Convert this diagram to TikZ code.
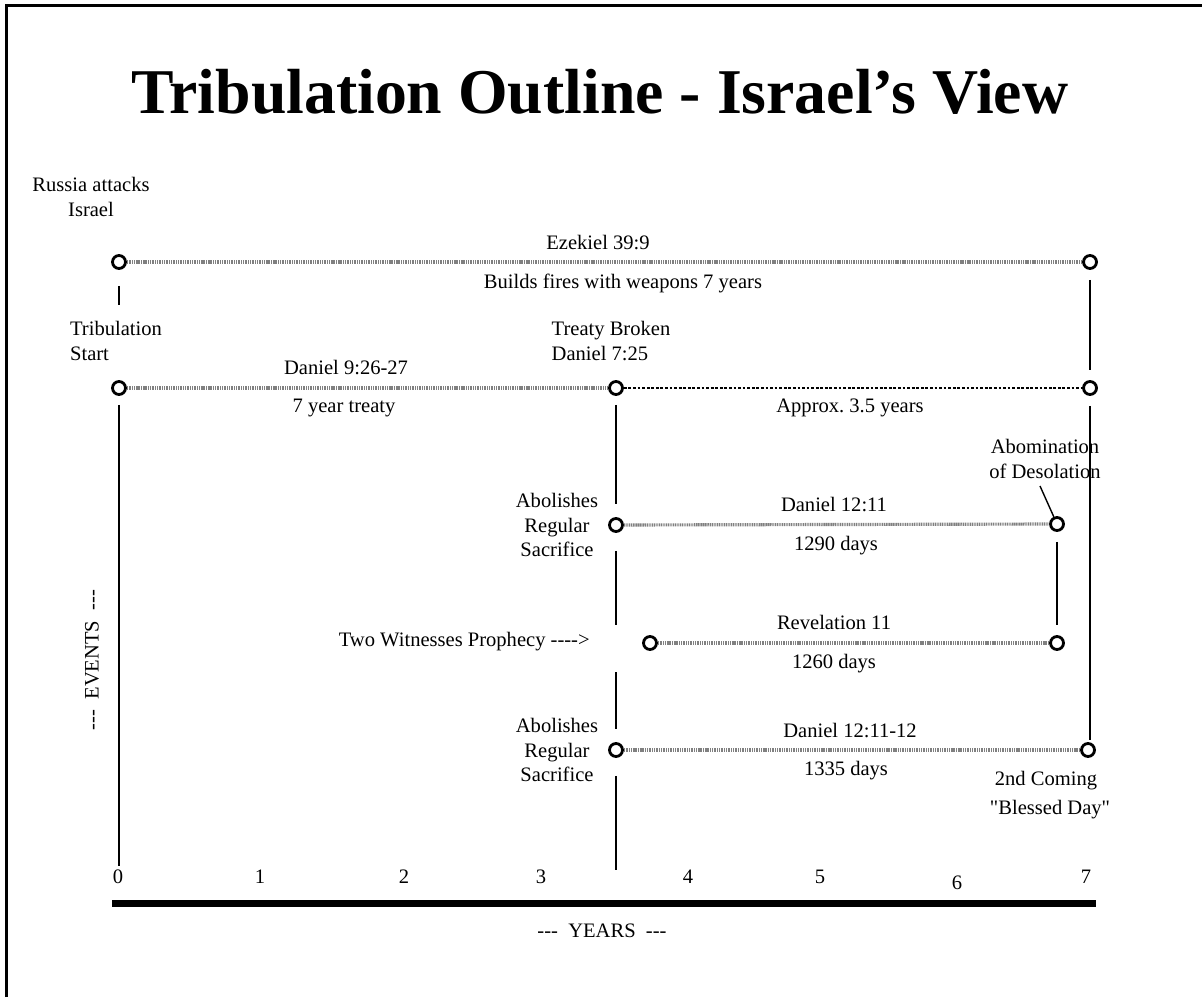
\documentclass[tikz,border=0pt]{standalone}
\usepackage{fontspec}
\setmainfont{Liberation Serif}
\usetikzlibrary{positioning, calc}
\tikzset{
    evdot/.style={circle, draw, line width=1.6pt, fill=white,
                  minimum size=0.26cm, inner sep=0pt},
    hatchline/.style={line width=1.8pt, black!50, dash pattern=on 0.6pt off 0.4pt},
    dotline/.style={line width=1.2pt, dash pattern=on 1.6pt off 1pt},
    vline/.style={line width=1.2pt},
    lbl/.style={font=\fontsize{11.7}{14}\selectfont, inner sep=0pt},
    stack/.style={lbl, align=center},
}

\begin{document}
\begin{tikzpicture}[x=0.02cm, y=-0.02cm]
    \useasboundingbox (0,0) rectangle (1202,997);
    % Frame
    \draw[line width=0.064cm] (6.5,997) -- (6.5,5.5) -- (1202,5.5);
    \node[font=\fontsize{36.3}{40}\selectfont\bfseries] (title) at (600,92)
        {Tribulation Outline - Israel's View};

    % Row 1 - Ezekiel
    \node[evdot] (r1a) at (119,262) {};
    \node[evdot] (r1b) at (1090,262) {};
    \draw[hatchline] (r1a) -- (r1b);
    \node[stack] (russia) at (91,197) {Russia attacks\\Israel};
    \node[lbl] (ezek) at (598,243) {Ezekiel 39:9};
    \node[lbl] (fires) at (623,283) {Builds fires with weapons 7 years};

    % Row 2 - Daniel 9
    \node[evdot] (r2a) at (119,388) {};
    \node[evdot] (r2b) at (616,388) {};
    \node[evdot] (r2c) at (1090,388) {};
    \draw[hatchline] (r2a) -- (r2b);
    \draw[dotline] (r2b) -- (r2c);
    \node[stack, align=left] (tribstart) at (116,341) {Tribulation\\Start};
    \node[stack, align=left] (treaty) at (611,341) {Treaty Broken\\Daniel 7:25};
    \node[lbl] (dan9) at (346,368) {Daniel 9:26-27};
    \node[lbl] (seven) at (344,408) {7 year treaty};
    \node[lbl] (approx) at (850,408) {Approx.\ 3.5 years};

    % Row 3 - Daniel 12:11
    \node[evdot] (r3a) at (616,525) {};
    \node[evdot] (r3b) at (1057,524) {};
    \draw[hatchline] (r3a) -- (r3b);
    \node[stack] (abol1) at (557,525) {Abolishes\\Regular\\Sacrifice};
    \node[lbl] (dan12) at (834,505) {Daniel 12:11};
    \node[lbl] (d1290) at (836,546) {1290 days};
    \node[stack] (abom) at (1045,459) {Abomination\\of Desolation};
    \draw[line width=0.8pt] (1040,486) -- (r3b);

    % Row 4 - Revelation 11
    \node[evdot] (r4a) at (650,643) {};
    \node[evdot] (r4b) at (1057,643) {};
    \draw[hatchline] (r4a) -- (r4b);
    \node[lbl, anchor=east] (witness) at (590,642) {Two Witnesses Prophecy -{}-{}-{}->};
    \node[lbl] (rev) at (834,622) {Revelation 11};
    \node[lbl] (d1260) at (834,664) {1260 days};

    % Row 5 - Daniel 12:11-12
    \node[evdot] (r5a) at (616,750) {};
    \node[evdot] (r5b) at (1088,750) {};
    \draw[hatchline] (r5a) -- (r5b);
    \node[stack] (abol2) at (557,750) {Abolishes\\Regular\\Sacrifice};
    \node[lbl] (dan1212) at (850,731) {Daniel 12:11-12};
    \node[lbl] (d1335) at (846,771) {1335 days};
    \node[lbl] (second) at (1046,781) {2nd Coming};
    \node[lbl] (blessed) at (1050,810) {\textquotedbl Blessed Day\textquotedbl};

    % Verticals
    \coordinate (v0) at (119,866);
    \coordinate (v35) at (616,870);
    \coordinate (v7) at (1090,740);
    \coordinate (gapT) at (616,625);
    \coordinate (gapB) at (616,672);
    \draw[vline, shorten <=0.32cm, shorten >=1.5cm] (r1a) -- (r2a);
    \draw[vline, shorten <=0.18cm] (r2a) -- (v0);
    \draw[vline, shorten <=0.2cm, shorten >=0.2cm] (r1b) -- (r2c);
    \draw[vline, shorten <=0.2cm] (r2c) -- (v7);
    \draw[vline, shorten <=0.18cm, shorten >=0.26cm] (r2b) -- (r3a);
    \draw[vline, shorten <=0.36cm] (r3a) -- (gapT);
    \draw[vline, shorten >=0.26cm] (gapB) -- (r5a);
    \draw[vline, shorten <=0.36cm] (r5a) -- (v35);
    \draw[vline, shorten <=0.2cm, shorten >=0.2cm] (r3b) -- (r4b);

    % Years axis
    \draw[line width=0.14cm] (112,903) -- (1096,903);
    \foreach \yr/\xx/\yy in {0/118/877, 1/260/877, 2/404/877, 3/541/877,
                             4/688/877, 5/820/877, 6/957/883, 7/1086/877}
        \node[lbl] (yr\yr) at (\xx,\yy) {\yr};
    \node[lbl] (years) at (602,931) {-{}-{}- \ YEARS \ -{}-{}-};
    \node[lbl, rotate=90] (events) at (92,660) {-{}-{}- \ EVENTS \ -{}-{}-};
\end{tikzpicture}
\end{document}
